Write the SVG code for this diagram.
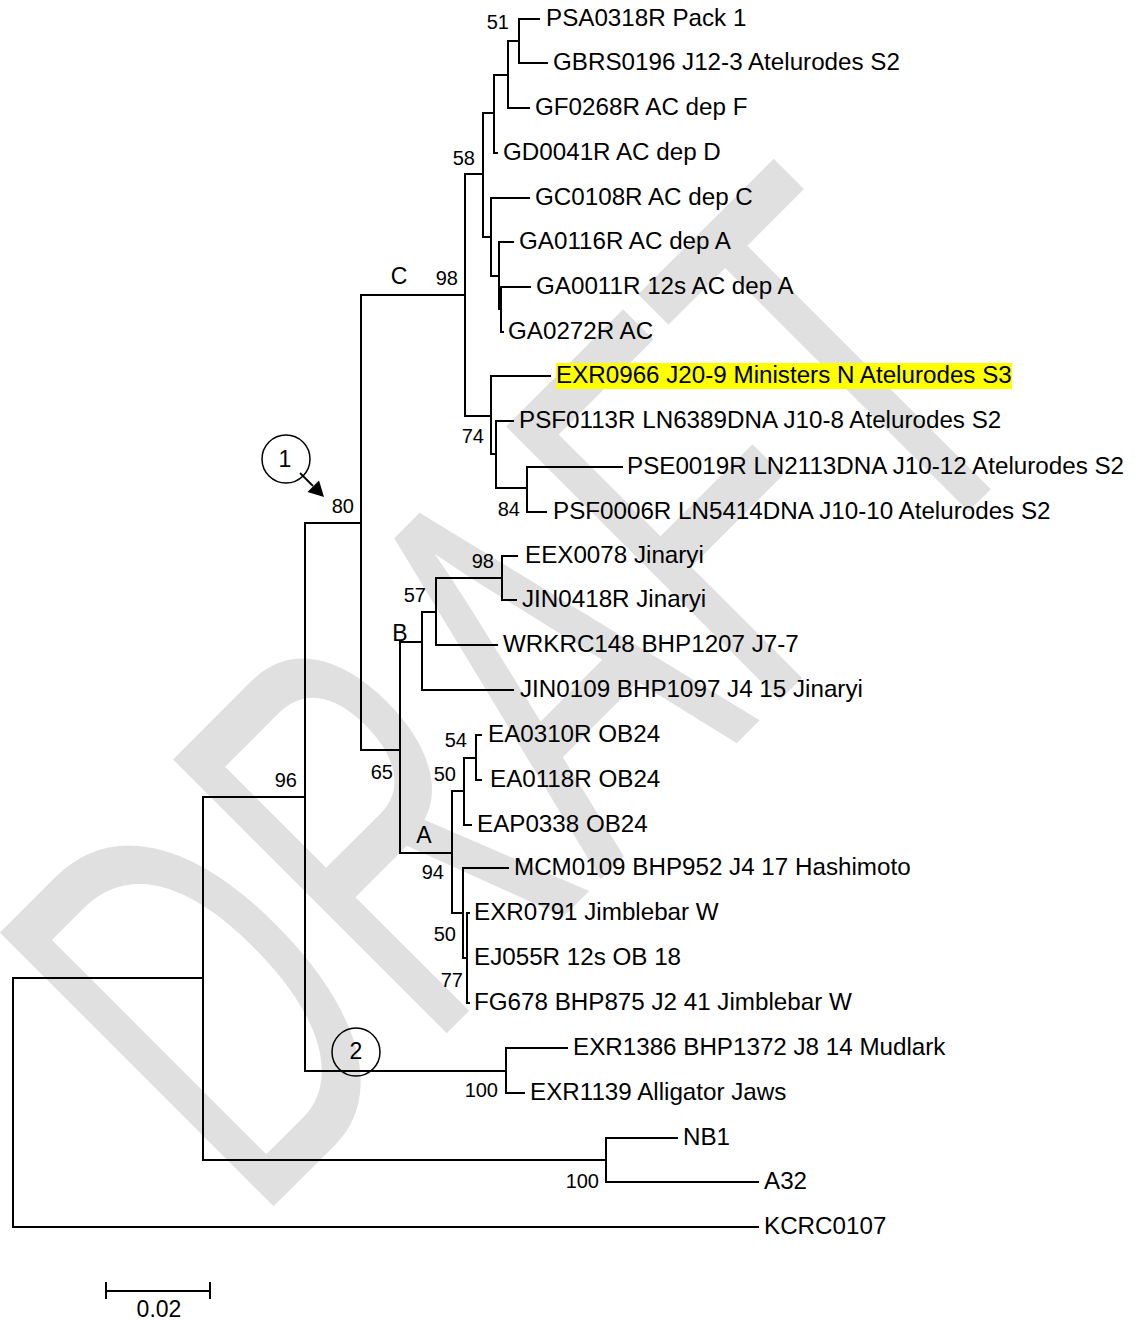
<svg xmlns="http://www.w3.org/2000/svg" width="1135" height="1321" viewBox="0 0 1135 1321">
<style>
.br{stroke:#000;stroke-width:2;fill:none;stroke-linecap:square}
.tip{font-family:"Liberation Sans",Arial,sans-serif;font-size:24.2px;fill:#000}
.bs{font-family:"Liberation Sans",Arial,sans-serif;font-size:20px;fill:#000;text-anchor:end}
.cl{font-family:"Liberation Sans",Arial,sans-serif;font-size:23px;fill:#000;text-anchor:middle}
.circ{fill:none;stroke:#000;stroke-width:1.5}
.wm{font-family:"Liberation Sans",Arial,sans-serif;font-size:339px;fill:#e0e0e0}
</style>
<rect width="1135" height="1321" fill="#fff"/>
<g id="watermark">
<text class="wm" transform="translate(254,1226) rotate(-45) scale(1,1.66)">DRAFT</text>
</g>
<rect id="highlight" x="556" y="363" width="456" height="26" fill="#ffff00"/>
<g id="connectors">
<path class="br" d="M13,978V1227 M13,978H203 M13,1227H758
M203,797V1160 M203,797H305 M203,1160H606
M606,1138V1182 M606,1138H677 M606,1182H758
M305,523V1071 M305,523H361 M305,1071H506
M506,1048V1093 M506,1048H567 M506,1093H524
M361,295V750 M361,295H465 M361,750H400
M465,174V416 M465,174H483 M465,416H491
M483,113V237 M483,113H494 M483,237H491
M494,75V153 M494,75H508 M494,153H497
M508,41V108 M508,41H519 M508,108H529
M519,19V63 M519,19H539 M519,63H547
M491,198V276 M491,198H529 M491,276H499
M499,242V309 M499,242H513 M499,309H501
M501,287V332 M501,287H530 M501,332H503
M491,376V454 M491,376H550 M491,454H496
M496,421V488 M496,421H513 M496,488H527
M527,467V512 M527,467H622 M527,512H546
M400,642V853 M400,642H422 M400,853H452
M422,612V690 M422,612H436 M422,690H513
M436,578V645 M436,578H502 M436,645H497
M502,556V600 M502,556H517 M502,600H516
M452,791V913 M452,791H464 M452,913H463
M464,758V825 M464,758H476 M464,825H471
M476,735V780 M476,735H481 M476,780H481
M463,868V958 M463,868H508 M463,958H467
M467,913V1003 M467,913H469 M467,1003H469"/>
<path class="br" d="M106,1291H210 M106,1283V1298 M210,1283V1298"/>
<line x1="300" y1="473" x2="313" y2="486" stroke="#000" stroke-width="1.8"/>
<polygon points="324,497 307.5,492 319,480.5" fill="#000"/>
</g>
<g id="tips">
<g id="t1"><text class="tip" x="546" y="26">PSA0318R Pack 1</text></g>
<g id="t2"><text class="tip" x="553" y="70">GBRS0196 J12-3 Atelurodes S2</text></g>
<g id="t3"><text class="tip" x="535" y="115">GF0268R AC dep F</text></g>
<g id="t4"><text class="tip" x="503" y="160">GD0041R AC dep D</text></g>
<g id="t5"><text class="tip" x="535" y="205">GC0108R AC dep C</text></g>
<g id="t6"><text class="tip" x="519" y="249">GA0116R AC dep A</text></g>
<g id="t7"><text class="tip" x="536" y="294">GA0011R 12s AC dep A</text></g>
<g id="t8"><text class="tip" x="508" y="339">GA0272R AC</text></g>
<g id="t9"><text class="tip" x="556" y="383">EXR0966 J20-9 Ministers N Atelurodes S3</text></g>
<g id="t10"><text class="tip" x="519" y="428">PSF0113R LN6389DNA J10-8 Atelurodes S2</text></g>
<g id="t11"><text class="tip" x="627" y="474">PSE0019R LN2113DNA J10-12 Atelurodes S2</text></g>
<g id="t12"><text class="tip" x="553" y="519">PSF0006R LN5414DNA J10-10 Atelurodes S2</text></g>
<g id="t13"><text class="tip" x="525" y="563">EEX0078 Jinaryi</text></g>
<g id="t14"><text class="tip" x="522" y="607">JIN0418R Jinaryi</text></g>
<g id="t15"><text class="tip" x="503" y="652">WRKRC148 BHP1207 J7-7</text></g>
<g id="t16"><text class="tip" x="520" y="697">JIN0109 BHP1097 J4 15 Jinaryi</text></g>
<g id="t17"><text class="tip" x="488" y="742">EA0310R OB24</text></g>
<g id="t18"><text class="tip" x="490" y="787">EA0118R OB24</text></g>
<g id="t19"><text class="tip" x="477" y="832">EAP0338 OB24</text></g>
<g id="t20"><text class="tip" x="514" y="875">MCM0109 BHP952 J4 17 Hashimoto</text></g>
<g id="t21"><text class="tip" x="474" y="920">EXR0791 Jimblebar W</text></g>
<g id="t22"><text class="tip" x="474" y="965">EJ055R 12s OB 18</text></g>
<g id="t23"><text class="tip" x="474" y="1010">FG678 BHP875 J2 41 Jimblebar W</text></g>
<g id="t24"><text class="tip" x="573" y="1055">EXR1386 BHP1372 J8 14 Mudlark</text></g>
<g id="t25"><text class="tip" x="530" y="1100">EXR1139 Alligator Jaws</text></g>
<g id="t26"><text class="tip" x="683" y="1145">NB1</text></g>
<g id="t27"><text class="tip" x="764" y="1189">A32</text></g>
<g id="t28"><text class="tip" x="764" y="1234">KCRC0107</text></g>
</g>
<g id="support">
<g id="n51"><text class="bs" x="509" y="29">51</text></g>
<g id="n58"><text class="bs" x="475" y="165">58</text></g>
<g id="n98c"><text class="bs" x="458" y="285">98</text></g>
<g id="n74"><text class="bs" x="484" y="443">74</text></g>
<g id="n84"><text class="bs" x="520" y="516">84</text></g>
<g id="n80"><text class="bs" x="354" y="513">80</text></g>
<g id="n98b"><text class="bs" x="494" y="568">98</text></g>
<g id="n57"><text class="bs" x="426" y="602">57</text></g>
<g id="n54"><text class="bs" x="467" y="747">54</text></g>
<g id="n50a"><text class="bs" x="456" y="781">50</text></g>
<g id="n65"><text class="bs" x="393" y="779">65</text></g>
<g id="n96"><text class="bs" x="297" y="787">96</text></g>
<g id="n94"><text class="bs" x="444" y="879">94</text></g>
<g id="n50b"><text class="bs" x="456" y="941">50</text></g>
<g id="n77"><text class="bs" x="463" y="987">77</text></g>
<g id="n100a"><text class="bs" x="498" y="1097">100</text></g>
<g id="n100b"><text class="bs" x="599" y="1188">100</text></g>
</g>
<g id="clades">
<g id="cladeC"><text class="cl" x="399" y="284">C</text></g>
<g id="cladeB"><text class="cl" x="400" y="641">B</text></g>
<g id="cladeA"><text class="cl" x="424" y="843">A</text></g>
</g>
<g id="marker1"><circle class="circ" cx="286" cy="459" r="24"/><text class="cl" x="285" y="467" font-size="24">1</text></g>
<g id="marker2"><circle class="circ" cx="356" cy="1052" r="24"/><text class="cl" x="356" y="1059" font-size="24">2</text></g>
<g id="scale"><text class="cl" x="159" y="1317" font-size="20">0.02</text></g>
</svg>
